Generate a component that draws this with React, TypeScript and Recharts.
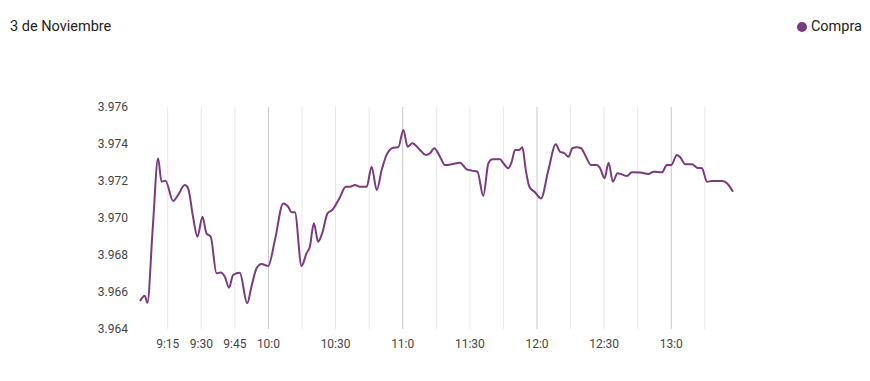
import React from "react";
import { LineChart, Line, XAxis, YAxis, ReferenceLine } from "recharts";

// minutes since 9:00
const minutes = [
  2.6, 4.7, 5.9, 8.3, 10.7, 12.2, 14.0, 17.4, 19.6, 22.6, 24.1, 26.3, 28.3, 30.5, 32.3, 34.2,
  36.8, 38.7, 40.5, 42.4, 44.2, 47.2, 50.5, 52.4, 54.7, 56.9, 59.9, 62.9, 66.6, 68.8, 70.3, 71.8,
  74.8, 77.0, 78.5, 80.3, 82.2, 84.0, 86.4, 88.5, 91.9, 94.5, 96.4, 98.7, 100.9, 103.9, 106.1,
  108.4, 110.6, 112.8, 115.8, 118.0, 120.3, 122.2, 124.3, 127.7, 130.3, 132.2, 134.1, 136.7,
  138.9, 141.9, 145.6, 148.6, 150.9, 153.4, 156.0, 158.3, 160.1, 163.5, 165.0, 167.2, 168.7,
  170.2, 172.0, 173.5, 175.0, 176.6, 179.2, 181.8, 185.1, 188.4, 190.3, 192.3, 194.1, 195.8,
  197.8, 199.7, 201.5, 204.2, 206.8, 208.2, 210.2, 212.0, 213.9, 216.0, 217.9, 220.2, 222.4,
  226.1, 229.8, 232.1, 235.8, 238.1, 240.0, 242.5, 244.0, 246.3, 249.3, 251.5, 253.7, 256.0,
  258.2, 262.7, 264.9, 267.6,
];

const compra = [
  3.96551, 3.9658, 3.96542, 3.96946, 3.97323, 3.97196, 3.97202, 3.97092, 3.97124, 3.97178,
  3.97161, 3.97007, 3.96899, 3.97007, 3.96917, 3.96899, 3.96701, 3.96706, 3.96683, 3.96623,
  3.96692, 3.96704, 3.96539, 3.96629, 3.96728, 3.96751, 3.96741, 3.96881, 3.97079, 3.97061,
  3.97031, 3.97031, 3.96741, 3.96809, 3.96845, 3.96971, 3.96872, 3.96917, 3.97025, 3.97043,
  3.97111, 3.97169, 3.97169, 3.97178, 3.97169, 3.97169, 3.97277, 3.97151, 3.97259, 3.97341,
  3.9738, 3.97382, 3.97476, 3.97385, 3.97404, 3.97368, 3.97341, 3.9735, 3.97377, 3.9733,
  3.97286, 3.9729, 3.97299, 3.97263, 3.97256, 3.9725, 3.9712, 3.97296, 3.97317, 3.97317,
  3.97296, 3.97269, 3.97304, 3.97368, 3.97368, 3.97382, 3.97259, 3.97169, 3.97138, 3.97106,
  3.97259, 3.97398, 3.97358, 3.9735, 3.97331, 3.97377, 3.97382, 3.97377, 3.97341, 3.97286,
  3.97286, 3.97269, 3.97215, 3.97299, 3.97196, 3.97242, 3.97236, 3.97227, 3.97247, 3.97246,
  3.97238, 3.9725, 3.97247, 3.97286, 3.97286, 3.97341, 3.97328, 3.9729, 3.9729, 3.97272,
  3.97269, 3.97196, 3.972, 3.972, 3.97188, 3.97142,
];

const gridMinutes = [15, 30, 45, 60, 75, 90, 105, 120, 135, 150, 165, 180, 195, 210, 225, 240, 255];
const labeledMinutes = [15, 30, 45, 60, 90, 120, 150, 180, 210, 240];
const yTicks = [3.964, 3.966, 3.968, 3.97, 3.972, 3.974, 3.976];

const title = "3 de Noviembre";
const seriesName = "Compra";
const color = "#7a3b7e";
const font = "Roboto, 'Liberation Sans', Arial, sans-serif";

const data = minutes.map((m, i) => ({ m, v: compra[i] }));

const fmtTime = (m: number) => `${9 + Math.floor(m / 60)}:${m % 60}`;

const XTick = (props: any) => {
  const { x, y, payload } = props;
  if (!labeledMinutes.includes(payload.value)) return null;
  return (
    <text x={x} y={y} dy="0.71em" textAnchor="middle" fill="#444" fontSize={12} fontFamily={font}>
      {fmtTime(payload.value)}
    </text>
  );
};

export default function App() {
  return (
    <div style={{ position: "absolute", left: 0, top: 0, width: 870, height: 381, background: "#fff", fontFamily: font }}>
      <div style={{ position: "absolute", left: 10, top: 19, fontSize: 14.5, lineHeight: "16px", color: "#222" }}>{title}</div>
      <div style={{ position: "absolute", right: 8, top: 19, fontSize: 14.5, lineHeight: "16px", color: "#222", display: "flex", alignItems: "center" }}>
        <span style={{ display: "inline-block", width: 10, height: 10, borderRadius: "50%", background: color, marginRight: 4 }} />
        {seriesName}
      </div>
      <LineChart width={870} height={381} data={data} margin={{ top: 107, right: 137, bottom: 0, left: 0 }}>
        <XAxis
          dataKey="m"
          type="number"
          domain={["dataMin", "dataMax"]}
          ticks={gridMinutes}
          interval={0}
          axisLine={false}
          tickLine={false}
          tickSize={6}
          tickMargin={4}
          height={52}
          tick={<XTick />}
        />
        <YAxis
          type="number"
          domain={[3.964, 3.976]}
          ticks={yTicks}
          interval={0}
          axisLine={false}
          tickLine={false}
          tickMargin={6}
          width={140}
          tickFormatter={(v: number) => v.toFixed(3)}
          tick={{ fill: "#444", fontSize: 12, fontFamily: font }}
        />
        {gridMinutes.map((g) => (
          <ReferenceLine key={g} x={g} stroke={g % 60 === 0 ? "#c8c8c8" : "#e8e8e8"} strokeWidth={1} />
        ))}
        <Line
          type="monotone"
          dataKey="v"
          stroke={color}
          strokeWidth={2}
          dot={false}
          isAnimationActive={false}
        />
      </LineChart>
    </div>
  );
}
